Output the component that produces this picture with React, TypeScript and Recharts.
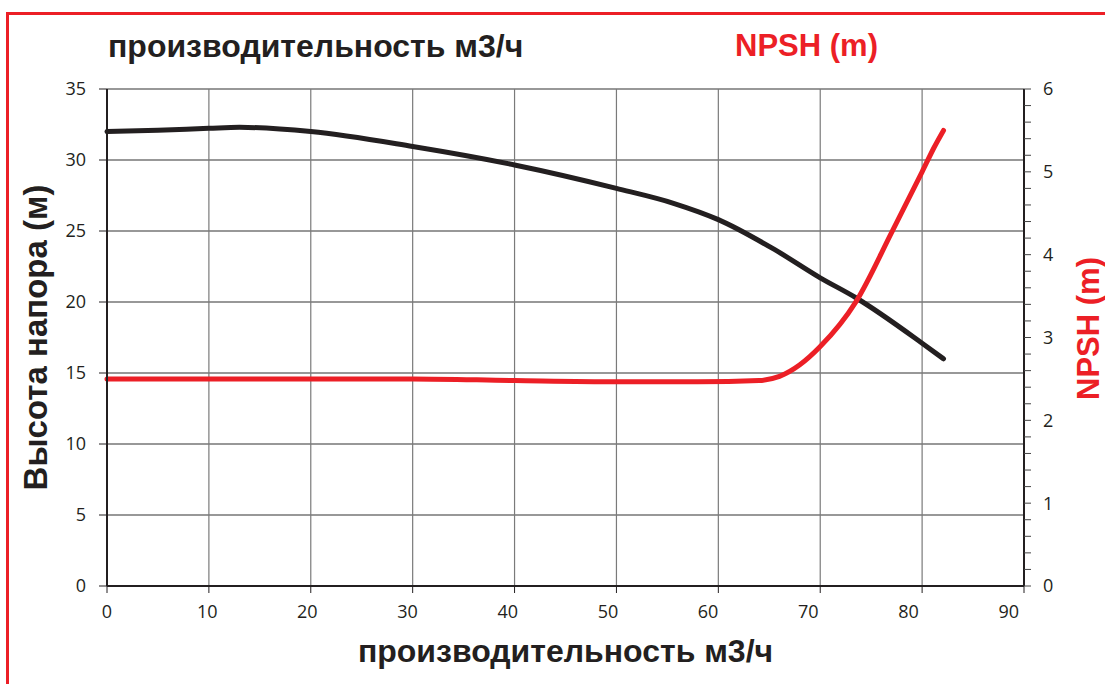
import React from "react";
import {
    ComposedChart, Line, XAxis, YAxis, CartesianGrid, Label,
} from "recharts";

// ---------- Data ----------

// head curve (left axis, м)
const HEAD_FLOW = [0, 5, 10, 13, 20, 30, 40, 50, 55.6, 60, 65.5, 70, 73.5, 80, 82.1];
const HEAD_VALUES = [32.0, 32.1, 32.23, 32.3, 32.0, 30.95, 29.65, 28.0, 26.95, 25.8, 23.7, 21.7, 20.3, 17.1, 16.0];

// NPSH curve (right axis, m)
const NPSH_FLOW = [0, 20, 30, 40, 50, 58, 64, 66, 68, 70, 73.5, 77.1, 80, 81.2, 82.1];
const NPSH_VALUES = [2.5, 2.5, 2.5, 2.48, 2.465, 2.465, 2.48, 2.53, 2.67, 2.89, 3.43, 4.29, 5.0, 5.3, 5.5];

const X_TICKS = [0, 10, 20, 30, 40, 50, 60, 70, 80, 90];
const LEFT_TICKS = [0, 5, 10, 15, 20, 25, 30, 35];
const RIGHT_TICKS = [
    0, 0.2, 0.4, 0.6, 0.8, 1, 1.2, 1.4, 1.6, 1.8, 2, 2.2, 2.4, 2.6, 2.8, 3,
    3.2, 3.4, 3.6, 3.8, 4, 4.2, 4.4, 4.6, 4.8, 5, 5.2, 5.4, 5.6, 5.8, 6,
];

const TITLE = "производительность м3/ч";
const LEFT_TITLE = "Высота напора (м)";
const NPSH_TITLE = "NPSH (m)";

// ---------- Styles ----------

const RED = "#ec1f26";
const INK = "#231f20";
const TICK_FONT = { fontSize: 18, fill: INK, fontFamily: "'Open Sans', sans-serif" };
const TITLE_FONT = "'Liberation Sans', Arial, sans-serif";
const TITLE_SIZE = 32;

const headData = HEAD_FLOW.map((q, i) => ({ q, head: HEAD_VALUES[i] }));
const npshData = NPSH_FLOW.map((q, i) => ({ q, npsh: NPSH_VALUES[i] }));

// x tick labels in the original drift slightly left of their tick marks
function FlowTick(props: any) {
    const { x, y, payload } = props;
    return (
        <text
            x={x - payload.value * 0.17}
            y={y}
            dy="0.71em"
            textAnchor="middle"
            {...TICK_FONT}
        >
            {payload.value}
        </text>
    );
}

function NpshTitle(props: any) {
    const { viewBox } = props;
    const cx = viewBox.x + viewBox.width + 24;
    const cy = viewBox.y + viewBox.height / 2 - 9;
    return (
        <text
            x={cx}
            y={cy}
            transform={`rotate(-90, ${cx}, ${cy})`}
            textAnchor="middle"
            dominantBaseline="central"
            fontFamily={TITLE_FONT}
            fontWeight="bold"
            fontSize={31}
            fill={RED}
        >
            {NPSH_TITLE}
        </text>
    );
}

export default function App() {
    return (
        <div style={{ position: "absolute", left: 0, top: 0, width: 1105, height: 684, overflow: "hidden", background: "#fff" }}>
            {/* red frame (top + left edges) */}
            <div style={{
                position: "absolute", left: 6, top: 12, width: 1200, height: 800,
                borderTop: `3px solid ${RED}`, borderLeft: `3px solid ${RED}`,
            }} />
            <div style={{
                position: "absolute", left: 108, top: 29, fontFamily: TITLE_FONT,
                fontWeight: "bold", fontSize: TITLE_SIZE, lineHeight: "34px", color: INK,
            }}>{TITLE}</div>
            <div style={{
                position: "absolute", left: 735, top: 29, fontFamily: TITLE_FONT,
                fontWeight: "bold", fontSize: 31, lineHeight: "34px", color: RED,
            }}>{NPSH_TITLE}</div>

            <ComposedChart
                width={1105}
                height={684}
                margin={{ top: 89, right: 41, left: 67, bottom: 68 }}
                style={{ position: "absolute", left: 0, top: 0 }}
            >
                <CartesianGrid yAxisId="left" vertical={false} stroke="#333" strokeWidth={1.2} />
                <CartesianGrid yAxisId="left" horizontal={false} stroke="#7a7a7a" strokeWidth={1.2} />
                <XAxis
                    dataKey="q"
                    type="number"
                    domain={[0, 90]}
                    ticks={X_TICKS}
                    interval={0}
                    height={30}
                    tick={<FlowTick />}
                    tickSize={7}
                    tickMargin={12}
                    axisLine={{ stroke: INK, strokeWidth: 2 }}
                    tickLine={{ stroke: INK }}
                >
                    <Label
                        value={TITLE}
                        position="bottom"
                        offset={23}
                        style={{ fontFamily: TITLE_FONT, fontWeight: "bold", fontSize: TITLE_SIZE, fill: INK }}
                    />
                </XAxis>
                <YAxis
                    yAxisId="left"
                    type="number"
                    domain={[0, 35]}
                    ticks={LEFT_TICKS}
                    interval={0}
                    width={40}
                    tick={TICK_FONT}
                    tickSize={8}
                    tickMargin={13}
                    axisLine={{ stroke: INK, strokeWidth: 2 }}
                    tickLine={{ stroke: INK }}
                >
                    <Label
                        value={LEFT_TITLE}
                        angle={-90}
                        position="insideLeft"
                        offset={-32}
                        style={{ textAnchor: "middle", fontFamily: TITLE_FONT, fontWeight: "bold", fontSize: 33, fill: INK }}
                    />
                </YAxis>
                <YAxis
                    yAxisId="right"
                    orientation="right"
                    type="number"
                    domain={[0, 6]}
                    ticks={RIGHT_TICKS}
                    interval={0}
                    width={40}
                    tick={TICK_FONT}
                    tickFormatter={(v: number) => (Number.isInteger(v) ? String(v) : "")}
                    tickSize={7}
                    tickMargin={12}
                    axisLine={{ stroke: INK, strokeWidth: 2 }}
                    tickLine={{ stroke: "#444" }}
                >
                    <Label content={<NpshTitle />} />
                </YAxis>
                <Line
                    yAxisId="left"
                    data={headData}
                    dataKey="head"
                    type="monotone"
                    stroke={INK}
                    strokeWidth={5}
                    strokeLinecap="round"
                    dot={false}
                    activeDot={false}
                    isAnimationActive={false}
                />
                <Line
                    yAxisId="right"
                    data={npshData}
                    dataKey="npsh"
                    type="monotone"
                    stroke={RED}
                    strokeWidth={5}
                    strokeLinecap="round"
                    dot={false}
                    activeDot={false}
                    isAnimationActive={false}
                />
            </ComposedChart>
        </div>
    );
}
